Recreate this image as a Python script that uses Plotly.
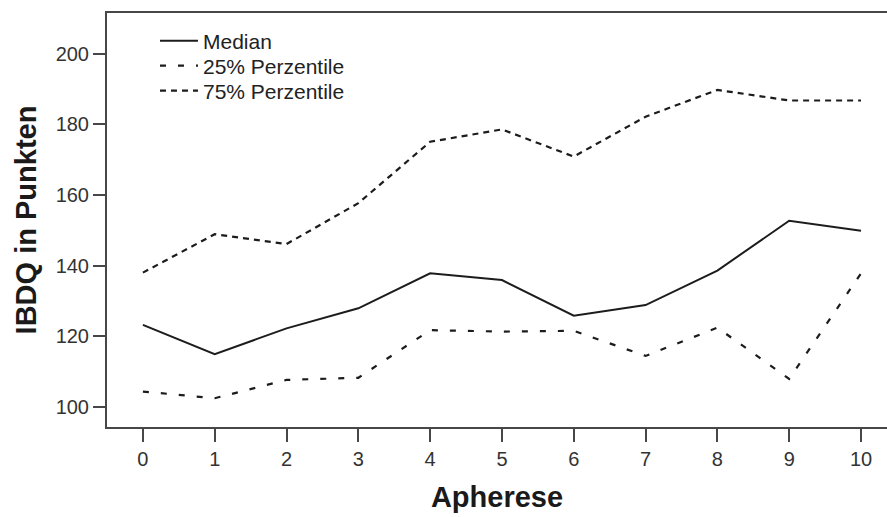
import plotly.graph_objects as go

apherese = [0, 1, 2, 3, 4, 5, 6, 7, 8, 9, 10]
median = [123.2, 114.9, 122.2, 127.9, 137.8, 135.9, 125.8, 128.8, 138.6, 152.7, 149.9]
p25 = [104.3, 102.4, 107.6, 108.2, 121.7, 121.3, 121.5, 114.4, 122.4, 107.9, 137.8]
p75 = [138.0, 148.9, 146.1, 157.7, 175.1, 178.6, 170.9, 182.2, 189.8, 186.8, 186.8]
series_names = ["Median", "25% Perzentile", "75% Perzentile"]
y_ticks = [100, 120, 140, 160, 180, 200]
x_ticks = apherese

LINE = "#1c1c1c"
AXIS = "#474747"
FONT = "Liberation Sans, Arial, sans-serif"

fig = go.Figure()
fig.add_trace(go.Scatter(x=apherese, y=median, mode="lines", name=series_names[0],
                         legend="legend",
                         line=dict(color=LINE, width=2, dash="solid")))
fig.add_trace(go.Scatter(x=apherese, y=p25, mode="lines", name=series_names[1],
                         legend="legend2",
                         line=dict(color=LINE, width=2.2, dash="6px,12px")))
fig.add_trace(go.Scatter(x=apherese, y=p75, mode="lines", name=series_names[2],
                         legend="legend3",
                         line=dict(color=LINE, width=2.2, dash="6px,5px")))

def leg(ypx):
    return dict(x=0.0615, y=(427 - ypx) / 414, xanchor="left", yanchor="middle",
                bgcolor="rgba(0,0,0,0)", borderwidth=0, itemwidth=38,
                font=dict(size=21, color="#222222"))

fig.update_layout(
    width=887, height=517,
    margin=dict(l=107, r=0, t=13, b=90),
    paper_bgcolor="white", plot_bgcolor="white",
    font=dict(family=FONT, color="#333333", size=21),
    showlegend=True,
    legend=leg(41), legend2=leg(66), legend3=leg(91),
    xaxis=dict(range=[-0.5, 10.362], tickmode="array", tickvals=x_ticks,
               ticktext=[str(v) for v in x_ticks],
               showgrid=False, zeroline=False,
               showline=True, linecolor=AXIS, linewidth=2, mirror=True,
               ticks="outside", ticklen=13, tickwidth=2, tickcolor=AXIS,
               tickfont=dict(size=20, color="#333333"),
               title=dict(text="<b>Apherese</b>", font=dict(size=29, color="#1a1a1a"),
                          standoff=18)),
    yaxis=dict(range=[94.25, 211.6], tickmode="array", tickvals=y_ticks,
               ticktext=[str(v) for v in y_ticks],
               showgrid=False, zeroline=False,
               showline=True, linecolor=AXIS, linewidth=2, mirror=False,
               ticks="outside", ticklen=12, tickwidth=2, tickcolor=AXIS,
               tickfont=dict(size=20, color="#333333"),
               title=dict(text="<b>IBDQ in Punkten</b>", font=dict(size=29, color="#1a1a1a"),
                          standoff=10)),
)

fig.write_html("out.html")
